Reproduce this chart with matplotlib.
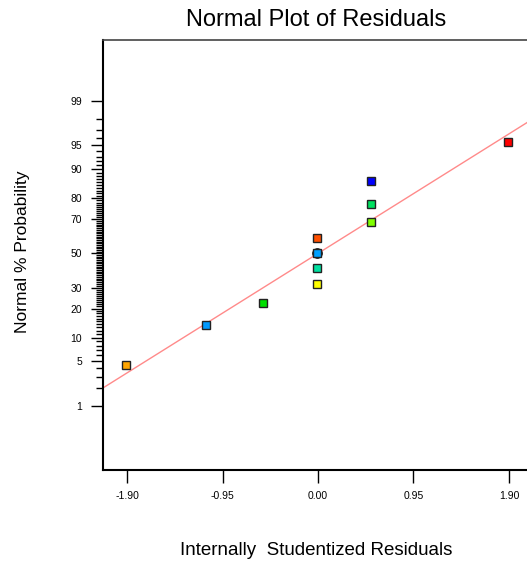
import math
import numpy as np
import matplotlib
matplotlib.use("Agg")
import matplotlib.pyplot as plt

# Residuals
residuals = [-1.91, -1.11, -0.55, -0.01, -0.01, -0.01, -0.01, 0.53, 0.53, 0.53, 1.89]
probability = [4.5, 13.6, 22.7, 31.8, 40.9, 50.0, 59.1, 68.2, 77.3, 86.4, 95.5]
colors = ["#FFA500", "#0099FF", "#00E000", "#FFFF00", "#00E0A0", "#00A0FF",
          "#FF5000", "#80FF00", "#00E060", "#0000FF", "#FF0000"]

# reference line (z = slope * x + intercept)
line_slope = 0.958
line_intercept = 0.0

x_ticks = [-1.90, -0.95, 0.00, 0.95, 1.90]
y_major = [1, 5, 10, 20, 30, 50, 70, 80, 90, 95, 99]
y_minor = list(range(1, 100))


_erf = np.vectorize(math.erf)


def cdf(z):
    return 0.5 * (1 + _erf(np.asarray(z, dtype=float) / math.sqrt(2)))


def ppf(q):
    q = np.clip(np.asarray(q, dtype=float), 1e-12, 1 - 1e-12)
    lo = np.full(q.shape, -10.0)
    hi = np.full(q.shape, 10.0)
    for _ in range(60):
        mid = (lo + hi) / 2
        below = cdf(mid) < q
        lo = np.where(below, mid, lo)
        hi = np.where(below, hi, mid)
    return (lo + hi) / 2


def fwd(p):
    return ppf(np.asarray(p, dtype=float) / 100.0)


def inv(z):
    return cdf(z) * 100.0


plt.rcParams['font.family'] = ['Liberation Sans', 'DejaVu Sans']

fig = plt.figure(figsize=(5.27, 5.62), dpi=100)
ax = fig.add_axes([0.1954, 0.1637, 0.816, 0.765])
ax.set_yscale('function', functions=(fwd, inv))

xmin, xmax = -2.14, 2.14
ax.set_xlim(xmin, xmax)
ax.set_ylim(float(inv(-3.30)), float(inv(3.25)))

lx = np.array([xmin, xmax])
ax.plot(lx, inv(line_slope * lx + line_intercept), color="#FF8A8A", lw=1, zorder=2)

# the selected point at 50 % has a black ring behind it
ax.plot(residuals[5], probability[5], 'o', ms=6.6, color='black', zorder=3)
for x, p, c in zip(residuals, probability, colors):
    ax.plot(x, p, 's', ms=5.8, markerfacecolor=c, markeredgecolor='#222222',
            markeredgewidth=1.0, zorder=4)

ax.set_xticks(x_ticks)
ax.set_xticklabels(["%.2f" % v for v in x_ticks])
ax.set_yticks(y_major)
ax.set_yticklabels([str(v) for v in y_major])
ax.set_yticks(y_minor, minor=True)
ax.tick_params(axis='both', which='major', length=9, width=1, labelsize=7.5, pad=6)
ax.tick_params(axis='y', which='minor', length=5, width=1)
ax.tick_params(axis='x', which='minor', length=0)

for side in ['left', 'bottom']:
    ax.spines[side].set_linewidth(1.5)
ax.spines['top'].set_linewidth(1.2)
ax.spines['top'].set_color('#444444')
ax.spines['right'].set_visible(False)

fig.text(0.599, 0.964, "Normal Plot of Residuals", ha='center', va='center', fontsize=17)
fig.text(0.6006, 0.0196, "Internally  Studentized Residuals", ha='center', va='center',
         fontsize=13.5)
fig.text(0.042, 0.5516, "Normal % Probability", ha='center', va='center',
         rotation=90, fontsize=12.5)

fig.savefig("out.png", dpi=100)
plt.close()
